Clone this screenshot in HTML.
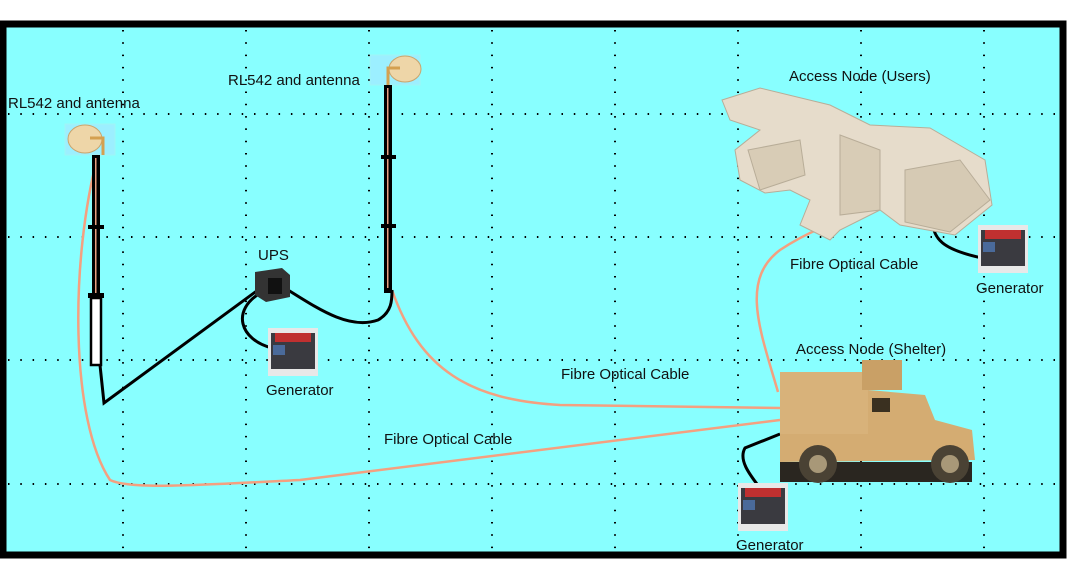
<!DOCTYPE html>
<html><head><style>
body{margin:0;background:#fff;}
svg{display:block;}
text{font-family:"Liberation Sans",Arial,sans-serif;font-size:15px;fill:#111;}
</style></head><body>
<svg width="1071" height="583" viewBox="0 0 1071 583">
<rect x="0" y="0" width="1071" height="583" fill="#fff"/>
<rect x="3" y="24" width="1060" height="531" fill="#88ffff" stroke="#000" stroke-width="7"/>
<g stroke="#000" stroke-width="2" stroke-dasharray="1.5 10.8">
<line x1="123" y1="30" x2="123" y2="550"/><line x1="246" y1="30" x2="246" y2="550"/>
<line x1="369" y1="30" x2="369" y2="550"/><line x1="492" y1="30" x2="492" y2="550"/>
<line x1="615" y1="30" x2="615" y2="550"/><line x1="738" y1="30" x2="738" y2="550"/>
<line x1="861" y1="30" x2="861" y2="550"/><line x1="984" y1="30" x2="984" y2="550"/>
<line x1="8" y1="114" x2="1058" y2="114"/><line x1="8" y1="237" x2="1058" y2="237"/>
<line x1="8" y1="360" x2="1058" y2="360"/><line x1="8" y1="484" x2="1058" y2="484"/>
</g>
<g fill="none" stroke="#f4a080" stroke-width="2.5">
<path d="M98 155 C70 260 70 420 110 480 C130 490 200 485 300 480 L780 420"/>
<path d="M392 290 C420 370 470 400 560 405 L780 408"/>
<path d="M778 392 C760 330 740 280 780 250 C810 230 840 220 880 205"/>
</g>
<g fill="none" stroke="#000" stroke-width="3">
<path d="M100 365 L104 403 L258 290"/>
<path d="M262 292 C230 310 240 340 272 348"/>
<path d="M288 290 C320 310 350 330 378 320 C392 312 392 300 392 290"/>
<path d="M933 215 C930 240 945 250 982 258"/>
<path d="M780 434 L745 448 C738 460 750 475 760 488"/>
</g>
<rect x="65" y="124" width="50" height="31" fill="#ccf" opacity=".3" stroke="#ddd"/>
<ellipse cx="85" cy="139" rx="17" ry="14" fill="#eed6a8" stroke="#c9a46c"/>
<path d="M90 138 H103 V155" fill="none" stroke="#d4a050" stroke-width="3"/>
<rect x="92" y="155" width="8" height="140" fill="#000"/>
<rect x="95" y="158" width="1.5" height="135" fill="#e8a080"/>
<rect x="88" y="225" width="16" height="4" fill="#000"/>
<rect x="88" y="293" width="16" height="5" fill="#000"/>
<rect x="91" y="298" width="10" height="67" fill="#fff" stroke="#000" stroke-width="2.5"/>
<rect x="370" y="55" width="50" height="30" fill="#ccf" opacity=".3" stroke="#ddd"/>
<ellipse cx="405" cy="69" rx="16" ry="13" fill="#eed6a8" stroke="#c9a46c"/>
<path d="M400 68 H388 V85" fill="none" stroke="#d4a050" stroke-width="3"/>
<rect x="384" y="85" width="8" height="208" fill="#000"/>
<rect x="387" y="88" width="1.5" height="200" fill="#e8a080"/>
<rect x="381" y="155" width="15" height="4" fill="#000"/>
<rect x="381" y="224" width="15" height="4" fill="#000"/>
<path d="M255 272 L282 268 L290 275 L290 297 L266 302 L255 295 Z" fill="#333"/>
<rect x="268" y="278" width="14" height="16" fill="#111"/>
<g id="gen">
<rect x="268" y="328" width="50" height="48" fill="#e8e8e8"/>
<rect x="271" y="333" width="44" height="36" fill="#3a3a40"/>
<rect x="275" y="333" width="36" height="9" fill="#c03030"/>
<rect x="273" y="345" width="12" height="10" fill="#4a6a9a"/>
</g>
<use href="#gen" x="710" y="-103"/>
<use href="#gen" x="470" y="155"/>
<g fill="#e6dccb" stroke="#b8ad98" stroke-width="1">
<path d="M722 100 L760 88 L830 105 L870 125 L930 128 L985 160 L992 205 L955 235 L900 225 L880 210 L840 230 L830 240 L800 225 L810 200 L790 190 L765 193 L740 180 L735 150 L760 130 L730 120 Z"/>
<path d="M840 135 L880 150 L880 210 L840 215 Z" fill="#d8ccb6"/>
<path d="M905 170 L960 160 L990 200 L950 232 L905 222 Z" fill="#d6cab4"/>
<path d="M748 150 L800 140 L805 175 L760 190 Z" fill="#d8ccb6"/>
</g>
<g>
<rect x="780" y="372" width="88" height="62" fill="#d8b27a"/>
<rect x="862" y="360" width="40" height="30" fill="#c9a066"/>
<path d="M780 434 L868 434 L868 390 L925 395 L935 420 L972 430 L975 460 L780 462 Z" fill="#d4ac72"/>
<rect x="872" y="398" width="18" height="14" fill="#3a3020"/>
<rect x="780" y="462" width="192" height="20" fill="#2a2620"/>
<circle cx="818" cy="464" r="19" fill="#4a4234"/><circle cx="818" cy="464" r="9" fill="#a89878"/>
<circle cx="950" cy="464" r="19" fill="#4a4234"/><circle cx="950" cy="464" r="9" fill="#a89878"/>
</g>
<text x="8" y="108">RL542 and antenna</text>
<text x="228" y="85">RL542 and antenna</text>
<text x="258" y="260">UPS</text>
<text x="266" y="395">Generator</text>
<text x="789" y="81">Access Node (Users)</text>
<text x="790" y="269">Fibre Optical Cable</text>
<text x="976" y="293">Generator</text>
<text x="796" y="354">Access Node (Shelter)</text>
<text x="561" y="379">Fibre Optical Cable</text>
<text x="384" y="444">Fibre Optical Cable</text>
<text x="736" y="550">Generator</text>
</svg>
</body></html>
